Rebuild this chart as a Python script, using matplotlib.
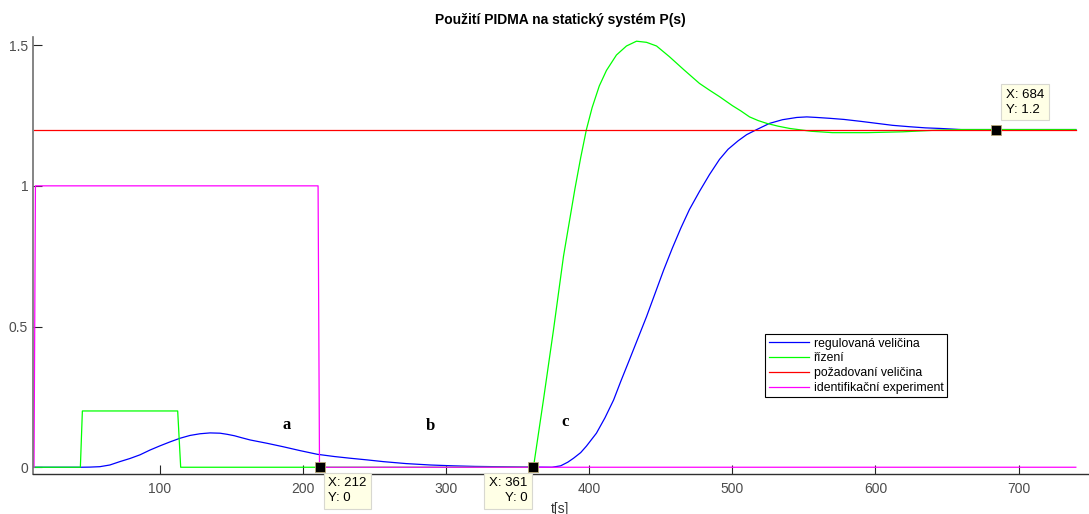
import matplotlib
matplotlib.use('Agg')
import matplotlib.pyplot as plt

plt.rcParams['font.family'] = ['Liberation Sans', 'DejaVu Sans']

# regulovana velicina (plant output)
out_t = [12, 44, 51, 58, 65, 72, 79, 86, 93, 100, 107, 114, 121, 128, 135, 142, 147,
         152, 157, 163, 169, 175, 186, 198, 210, 222, 233, 245, 256, 272, 289, 305,
         320, 335, 350, 374, 380, 385, 389, 394, 398, 405, 411, 417, 422, 428, 434,
         440, 446, 452, 458, 464, 470, 477, 484, 491, 497, 504, 510, 517, 526, 535,
         545, 552, 559, 568, 578, 590, 601, 612, 624, 635, 645, 660, 740]
out_y = [0, 0, 0.0005, 0.002, 0.008, 0.02, 0.031, 0.044, 0.061, 0.076, 0.09, 0.103,
         0.113, 0.119, 0.122, 0.121, 0.117, 0.112, 0.105, 0.097, 0.091, 0.085, 0.073,
         0.059, 0.046, 0.038, 0.032, 0.026, 0.020, 0.013, 0.008, 0.005, 0.003, 0.002,
         0.001, 0, 0.005, 0.018, 0.032, 0.052, 0.075, 0.121, 0.176, 0.239, 0.305,
         0.381, 0.458, 0.535, 0.618, 0.701, 0.778, 0.85, 0.916, 0.98, 1.04, 1.094,
         1.13, 1.16, 1.182, 1.2, 1.222, 1.235, 1.243, 1.245, 1.243, 1.24, 1.236,
         1.229, 1.222, 1.215, 1.21, 1.206, 1.204, 1.2, 1.2]

# rizeni (controller output)
ctrl_t = [12, 44.4, 45.8, 112.4, 114.5, 361, 368, 375, 382, 386, 390, 394, 398, 402,
          407, 412, 419, 426, 433, 440, 447, 456, 466, 477, 484, 491, 500, 506, 512,
          518, 524, 532, 540, 555, 570, 594, 619, 643, 660, 740]
ctrl_y = [0, 0, 0.2, 0.2, 0, 0, 0.24, 0.488, 0.75, 0.87, 0.99, 1.1, 1.2, 1.278,
          1.355, 1.41, 1.465, 1.497, 1.514, 1.51, 1.497, 1.459, 1.413, 1.364, 1.34,
          1.317, 1.285, 1.266, 1.245, 1.232, 1.222, 1.212, 1.204, 1.194, 1.189, 1.189,
          1.192, 1.198, 1.2, 1.2]

# pozadovana velicina (setpoint)
ref_t = [12, 740]
ref_y = [1.2, 1.2]

# identifikacni experiment (test pulse)
ident_t = [12, 13, 210.5, 211.5, 740]
ident_y = [0, 1, 1, 0, 0]

# data tips
tip_x = [212, 361, 684]
tip_y = [0, 0, 1.2]
tip_offsets = [(8, -10), (-6, -10), (10, 14)]
tip_align = [('left', 'top'), ('right', 'top'), ('left', 'bottom')]

# phase labels
phase_names = ['a', 'b', 'c']
phase_x = [188.7, 288.7, 383]
phase_y = [0.15, 0.147, 0.16]

fig = plt.figure(figsize=(10.89, 5.14), dpi=100)
ax = fig.add_axes([33 / 1089, 40 / 514, 1055 / 1089, 437.3 / 514])

ax.plot(out_t, out_y, color='#0000ff', lw=0.9, label='regulovaná veličina')
ax.plot(ctrl_t, ctrl_y, color='#00ff00', lw=0.9, label='řízení')
ax.plot(ref_t, ref_y, color='#ff0000', lw=0.9, label='požadovaní veličina')
ax.plot(ident_t, ident_y, color='#ff00ff', lw=0.9, label='identifikační experiment')

ax.set_xlim(11.3, 748.5)
ax.set_ylim(-0.024, 1.53)
ax.set_xticks([100, 200, 300, 400, 500, 600, 700])
ax.set_yticks([0, 0.5, 1, 1.5])
ax.set_yticklabels(['0', '0.5', '1', '1.5'])
ax.tick_params(direction='in', length=6.5, width=0.8, labelsize=10,
               labelcolor='#4d4d4d', color='#262626')
ax.tick_params(axis='x', pad=6)
ax.tick_params(axis='y', pad=3.5)

for s in ['top', 'right']:
    ax.spines[s].set_visible(False)
ax.spines['left'].set_color('#707070')
ax.spines['left'].set_linewidth(1.2)
ax.spines['bottom'].set_color('#303030')
ax.spines['bottom'].set_linewidth(1.0)

ax.set_title('Použití PIDMA na statický systém P(s)', fontsize=10,
             fontweight='bold', pad=9)
ax.set_xlabel('t[s]', fontsize=10, color='#333333', labelpad=4)

leg = ax.legend(loc='upper left', bbox_to_anchor=(0.694, 0.32), fontsize=8.8,
                fancybox=False, framealpha=1, edgecolor='black',
                handlelength=3.3, handletextpad=0.4, labelspacing=0.22,
                borderpad=0.3, borderaxespad=0)
leg.get_frame().set_linewidth(0.8)

for name, x, y in zip(phase_names, phase_x, phase_y):
    ax.text(x, y, name, family='Liberation Serif', fontweight='bold',
            fontsize=12, ha='center', va='center')

for x, y, off, (ha, va) in zip(tip_x, tip_y, tip_offsets, tip_align):
    ax.plot([x], [y], marker='s', ms=7.5, mfc='black', mec='#b8a878',
            mew=0.6, zorder=5, clip_on=False)
    ax.annotate('X: %g\nY: %g' % (x, y), xy=(x, y), xytext=off,
                textcoords='offset pixels', ha=ha, va=va, fontsize=9.5,
                linespacing=1.3, annotation_clip=False, zorder=6,
                bbox=dict(boxstyle='square,pad=0.35', fc='#ffffe6',
                          ec='#d8d8d0', lw=0.8))

fig.savefig('out.png', dpi=100)
